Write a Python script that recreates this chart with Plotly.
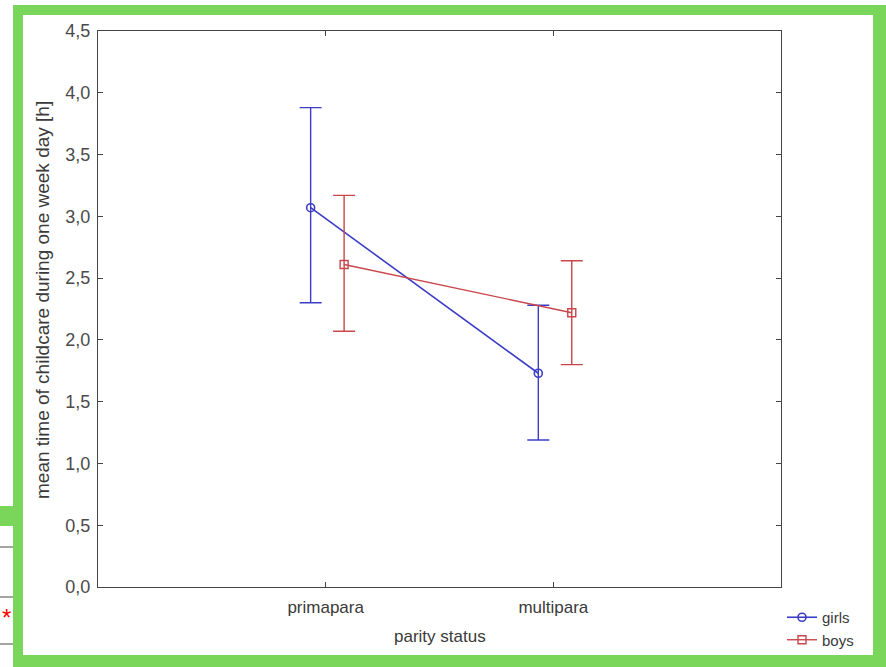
import plotly.graph_objects as go

categories = ["primapara", "multipara"]
girls_mean = [3.07, 1.73]
girls_upper = [3.88, 2.28]
girls_lower = [2.30, 1.19]
boys_mean = [2.61, 2.22]
boys_upper = [3.17, 2.64]
boys_lower = [2.07, 1.80]

# layout constants (pixels)
W, H = 886, 667
L, R, T, B = 98, 781, 31, 587
pw, ph = R - L, B - T

def px(x):
    return (x - L) / pw

def py(y):
    return (B - y) / ph

GIRLS_C = "#3b3dc6"
BOYS_C = "#c9464b"
TXT = "#3a3a3a"
girls_off, boys_off = -0.066, 0.081

xc = list(range(len(categories)))
fig = go.Figure()
fig.add_trace(go.Scatter(
    x=[v + girls_off for v in xc], y=girls_mean, name="girls",
    mode="lines+markers",
    line=dict(color=GIRLS_C, width=1.6),
    marker=dict(symbol="circle-open", size=8, color=GIRLS_C, line=dict(width=1.6)),
    error_y=dict(type="data", symmetric=False,
                 array=[u - m for u, m in zip(girls_upper, girls_mean)],
                 arrayminus=[m - l for m, l in zip(girls_mean, girls_lower)],
                 color=GIRLS_C, thickness=1.4, width=11),
))
fig.add_trace(go.Scatter(
    x=[v + boys_off for v in xc], y=boys_mean, name="boys",
    mode="lines+markers",
    line=dict(color=BOYS_C, width=1.4),
    marker=dict(symbol="square-open", size=8, color=BOYS_C, line=dict(width=1.4)),
    error_y=dict(type="data", symmetric=False,
                 array=[u - m for u, m in zip(boys_upper, boys_mean)],
                 arrayminus=[m - l for m, l in zip(boys_mean, boys_lower)],
                 color=BOYS_C, thickness=1.4, width=11),
))

axis_common = dict(showline=True, linecolor="#444", linewidth=1.2, mirror="ticks",
                   ticks="inside", ticklen=5, tickcolor="#444", showgrid=False,
                   zeroline=False, automargin=False)

fig.update_xaxes(range=[-1, 2], tickvals=xc, ticktext=categories,
                 tickfont=dict(size=17, color=TXT, family="Liberation Sans, Arial, sans-serif"),
                 ticklabelstandoff=4, **axis_common)
fig.update_yaxes(range=[0, 4.5], dtick=0.5, tickformat=".1f",
                 tickfont=dict(size=18, color="#4a4a4a",
                               family="Liberation Sans Narrow, Arial Narrow, sans-serif"),
                 ticklabelstandoff=3, **axis_common)

shapes = []
green = "#79d65a"
# green frame bands
for (x0, y0, x1, y1) in [(13, 5, 886, 15), (13, 5, 23, 667), (873, 5, 886, 667),
                         (13, 655, 886, 667), (0, 506, 13, 526)]:
    shapes.append(dict(type="rect", xref="paper", yref="paper",
                       x0=px(x0), x1=px(x1), y0=py(y1), y1=py(y0),
                       fillcolor=green, line=dict(width=0), layer="above"))
# fragment of table on the left
for yy in [547, 597, 644]:
    shapes.append(dict(type="line", xref="paper", yref="paper",
                       x0=px(0), x1=px(13), y0=py(yy), y1=py(yy),
                       line=dict(color="#666", width=1.2)))

annotations = [
    dict(text="mean time of childcare during one week day [h]", textangle=-90,
         x=px(42), y=py(300), xref="paper", yref="paper", showarrow=False,
         xanchor="center", yanchor="middle", font=dict(size=19, color=TXT)),
    dict(text="parity status", x=px(440), y=py(637), xref="paper", yref="paper",
         showarrow=False, xanchor="center", yanchor="middle",
         font=dict(size=17, color=TXT)),
    dict(text="*", x=px(0), y=py(617), xref="paper", yref="paper", xanchor="left",
         yanchor="middle", showarrow=False, font=dict(size=24, color="red")),
]

fig.update_layout(
    width=W, height=H,
    margin=dict(l=L, r=W - R, t=T, b=H - B, autoexpand=False),
    paper_bgcolor="white", plot_bgcolor="white",
    separators=", ",
    font=dict(family="Liberation Sans, Arial, sans-serif", color=TXT),
    showlegend=True,
    legend=dict(x=782 / W, y=1 - 601 / H, xref="container", yref="container",
                xanchor="left", yanchor="top",
                font=dict(size=15, color=TXT), bgcolor="rgba(0,0,0,0)",
                itemwidth=30, tracegroupgap=0),
    shapes=shapes,
    annotations=annotations,
)

fig.write_html("out.html")
